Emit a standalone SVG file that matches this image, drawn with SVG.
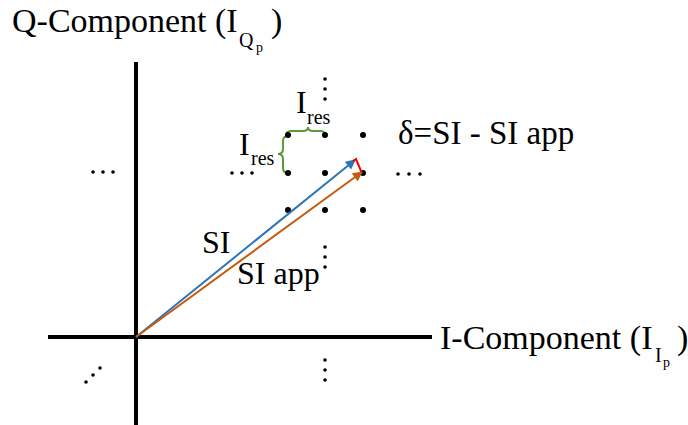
<svg xmlns="http://www.w3.org/2000/svg" width="688" height="425" viewBox="0 0 688 425">
<style>
.big{font-size:32px}
.ax{font-size:34px}
.sub{font-size:20px}
.ss{font-size:14px}
.axis{stroke:#000;stroke-width:4;fill:none}
.brace{stroke:#5B9A3C;stroke-width:2;fill:none}
</style>
<defs>
<marker id="ab" viewBox="0 0 10 10" refX="9" refY="5" markerWidth="11" markerHeight="10" markerUnits="userSpaceOnUse" orient="auto"><path d="M0,0 L10,5 L0,10 z" fill="#2E75B6"/></marker>
<marker id="ao" viewBox="0 0 10 10" refX="9" refY="5" markerWidth="11" markerHeight="10" markerUnits="userSpaceOnUse" orient="auto"><path d="M0,0 L10,5 L0,10 z" fill="#C55A11"/></marker>
</defs>
<g id="axes">
<line class="axis" x1="136" y1="62" x2="136" y2="425"/>
<line class="axis" x1="48" y1="337" x2="432" y2="337"/>
</g>
<g font-family="'Liberation Serif', 'Times New Roman', serif" fill="#000">
<g id="labels">
<text class="ax" x="12" y="32">Q-Component (I</text>
<text class="sub" x="239" y="47">Q</text>
<text class="ss" x="256" y="52">p</text>
<text class="ax" x="271" y="32">)</text>
<text class="ax" x="440" y="349">I-Component (I</text>
<text class="sub" x="655" y="362">I</text>
<text class="ss" x="663" y="367">p</text>
<text class="ax" x="677" y="349">)</text>
<text font-size="33" x="398" y="144">δ=SI - SI app</text>
<text class="big" x="202" y="253">SI</text>
<text class="big" x="237" y="284">SI app</text>
</g>
<g id="ires-top">
<text class="big" x="296" y="113">I</text>
<text class="sub" x="307" y="124">res</text>
<path class="brace" d="M286,136 Q286,131 291,131 L303,131 Q308,131 308,127 Q308,131 313,131 L321,131 Q325,131 325,136"/>
</g>
<g id="ires-left">
<text class="big" x="239" y="155">I</text>
<text class="sub" x="251" y="165">res</text>
<path class="brace" d="M288,136 Q283,136 283,141 L283,149 Q283,154 278,154 Q283,154 283,159 L283,168 Q283,173 288,173"/>
</g>
</g>
<g id="grid">
<circle cx="288" cy="135" r="3"/><circle cx="325" cy="135" r="3"/><circle cx="363" cy="135" r="3"/>
<circle cx="288" cy="173" r="3"/><circle cx="325" cy="173" r="3"/><circle cx="363" cy="173" r="3"/>
<circle cx="288" cy="210" r="3"/><circle cx="325" cy="210" r="3"/><circle cx="363" cy="210" r="3"/>
</g>
<g id="ellipses">
<circle cx="325" cy="79" r="1.8"/><circle cx="325" cy="89" r="1.8"/><circle cx="325" cy="99" r="1.8"/>
<circle cx="325" cy="247" r="1.8"/><circle cx="325" cy="257" r="1.8"/><circle cx="325" cy="267" r="1.8"/>
<circle cx="325" cy="360" r="1.8"/><circle cx="325" cy="370" r="1.8"/><circle cx="325" cy="380" r="1.8"/>
<circle cx="86" cy="382" r="1.8"/><circle cx="93" cy="375" r="1.8"/><circle cx="100" cy="368" r="1.8"/>
<circle cx="93" cy="172" r="1.8"/><circle cx="103" cy="172" r="1.8"/><circle cx="113" cy="172" r="1.8"/>
<circle cx="232" cy="173" r="1.8"/><circle cx="242" cy="173" r="1.8"/><circle cx="252" cy="173" r="1.8"/>
<circle cx="398" cy="174" r="1.8"/><circle cx="409" cy="174" r="1.8"/><circle cx="420" cy="174" r="1.8"/>
</g>
<g id="connectors">
<line x1="136" y1="337" x2="355" y2="160" stroke="#2E75B6" stroke-width="2" marker-end="url(#ab)"/>
<line x1="136" y1="337" x2="362" y2="172" stroke="#C55A11" stroke-width="2" marker-end="url(#ao)"/>
<polyline points="353,161 356,159 361,171" fill="none" stroke="#FF0000" stroke-width="2"/>
</g>
</svg>
